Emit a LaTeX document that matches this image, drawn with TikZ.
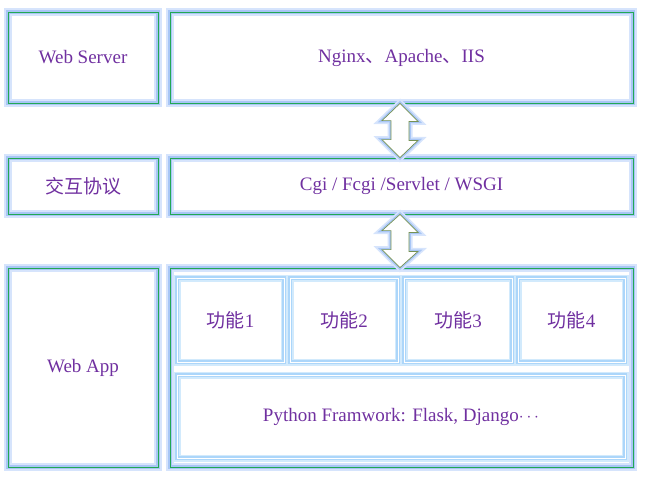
\documentclass[tikz,border=0pt]{standalone}
\usepackage{fontspec}
\setmainfont{Liberation Serif}
\newfontfamily\cjk{Noto Sans CJK SC}

\definecolor{haze}{RGB}{214,228,252}
\definecolor{glow}{RGB}{168,198,246}
\definecolor{cellglow}{RGB}{172,214,250}
\definecolor{cellhaze}{RGB}{210,234,252}
\definecolor{edge}{RGB}{34,168,84}
\definecolor{arrowline}{RGB}{118,146,84}
\definecolor{ink}{RGB}{112,48,160}

\tikzset{
  panel/.style={rectangle, inner sep=0pt, draw=edge, line width=0.8pt,
    preaction={draw=haze, line width=8pt},
    preaction={draw=glow, line width=4pt},
    text=ink, font=\fontsize{19}{22}\selectfont},
  cell/.style={rectangle, inner sep=0pt, draw=white, line width=0.6pt,
    preaction={draw=cellhaze, line width=7pt},
    preaction={draw=cellglow, line width=4pt},
    text=ink, font=\fontsize{19}{22}\selectfont},
  updown/.style={draw=arrowline, line width=0.7pt, fill=white,
    preaction={draw=haze, line width=7pt},
    preaction={draw=glow, line width=3.5pt}}
}

\begin{document}
\begin{tikzpicture}[x=1pt, y=-1pt]

\useasboundingbox (0,0) rectangle (645,480);

\coordinate (A) at (83,57.5);
\coordinate (B) at (401.5,57.5);
\coordinate (C) at (83,186);
\coordinate (D) at (401.5,186);
\coordinate (E) at (83,367.5);
\coordinate (F) at (401.5,367.5);
\coordinate (G) at (230.5,320);
\coordinate (H) at (344,320);
\coordinate (I) at (458,320);
\coordinate (J) at (571.5,320);
\coordinate (K) at (401,416.5);


\node [panel, minimum width=150pt, minimum height=91pt] (ws) at (A) {Web Server};
\node [panel, minimum width=463pt, minimum height=91pt] (srv) at (B) {Nginx{\cjk 、}Apache{\cjk 、}IIS};
\node [panel, minimum width=150pt, minimum height=56pt] (proto) at (C) {\cjk 交互协议};
\node [panel, minimum width=463pt, minimum height=56pt] (cgi) at (D) {Cgi / Fcgi /Servlet / WSGI};
\node [panel, minimum width=150pt, minimum height=199pt] (app) at (E) {Web App};
\node [panel, minimum width=463pt, minimum height=199pt] (fw) at (F) {};

\node [cell, minimum width=107pt, minimum height=84pt] (f1) at (G) {{\cjk 功能}1};
\node [cell, minimum width=108pt, minimum height=84pt] (f2) at (H) {{\cjk 功能}2};
\node [cell, minimum width=108pt, minimum height=84pt] (f3) at (I) {{\cjk 功能}3};
\node [cell, minimum width=107pt, minimum height=84pt] (f4) at (J) {{\cjk 功能}4};
\node [cell, minimum width=448pt, minimum height=83pt] (py) at (K) {Python Framwork: Flask, Django$\cdots$};


\foreach \a/\b in {srv/cgi, cgi/fw}
  \draw [updown] ([xshift=-1.5pt]\a.south) -- ++(18,18) -- ++(-9,0) -- ++(0,19)
    -- ++(9,0) -- ([xshift=-1.5pt]\b.north) -- ++(-18,-18) -- ++(9,0)
    -- ++(0,-19) -- ++(-9,0) -- cycle;


\end{tikzpicture}
\end{document}
